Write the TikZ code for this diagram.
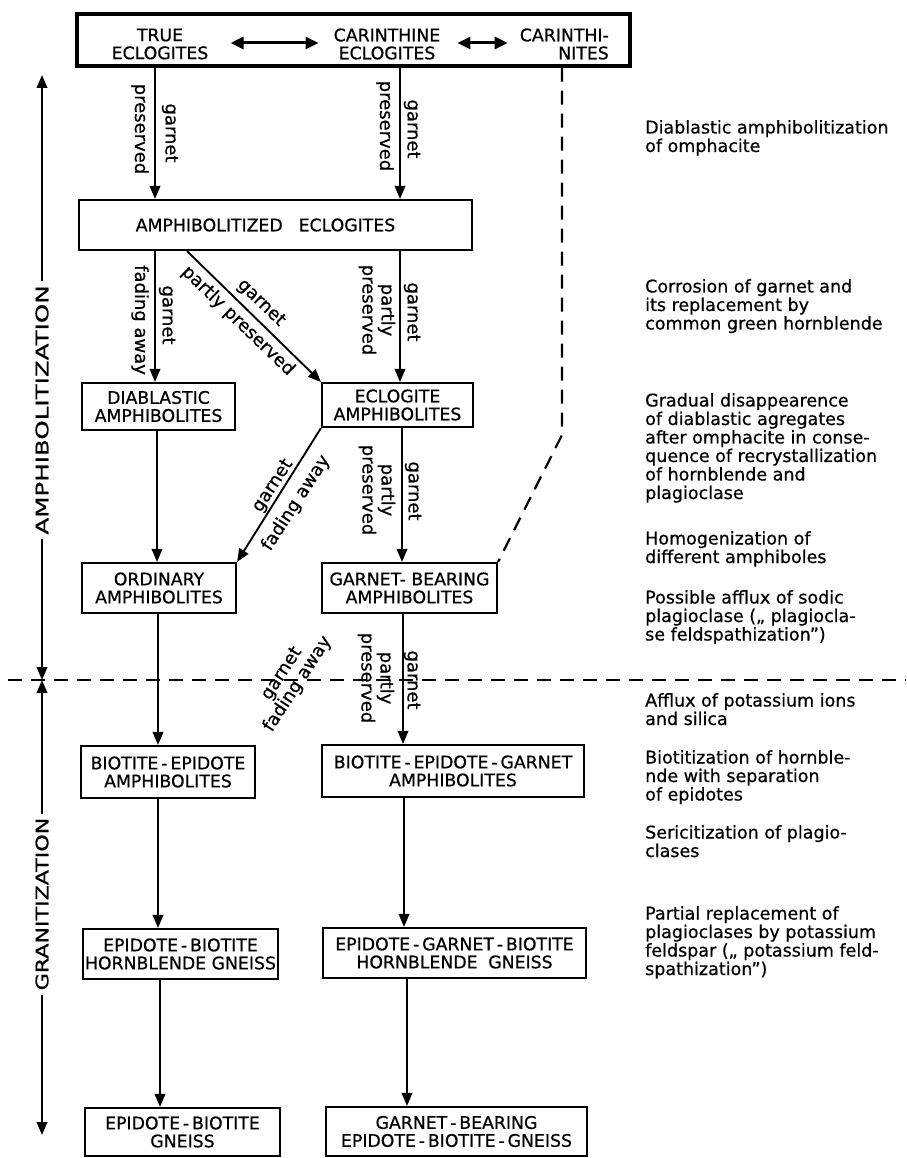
\documentclass[tikz,border=0pt]{standalone}
\usepackage{fontspec}
\setmainfont{DejaVu Sans}[FakeBold=0.6]
\usetikzlibrary{arrows.meta}
\newcommand\bxf{\fontsize{17.3}{18}\selectfont}
\newcommand\lbf{\fontsize{18}{19}\selectfont}
\newcommand\rtf{\fontsize{17.5}{18.5}\selectfont}
\begin{document}
\begin{tikzpicture}[x=1pt,y=-1pt,
  box/.style={draw, line width=2.1pt, inner sep=0pt, align=center, font=\bxf},
  txt/.style={font=\bxf, inner sep=0pt, align=center},
  arr/.style={line width=1.9pt, -{Triangle[length=13pt,width=10.5pt]}},
  dbl/.style={line width=3pt, {Triangle[length=13pt,width=12pt]}-{Triangle[length=13pt,width=12pt]}},
  lbl/.style={font=\lbf, inner sep=0pt, align=center},
  rt/.style={font=\rtf, inner sep=0pt, align=left, anchor=north west},
  dsh/.style={line width=2.2pt, dash pattern=on 14pt off 9pt},
]
\useasboundingbox (0,0) rectangle (906,1158);
\fill[white] (0,0) rectangle (906,1158);

% top box
\node[box, line width=3.2pt, minimum width=553pt, minimum height=52pt] (top) at (353.5,40) {};
\node[txt] (tru) at (160,44) {TRUE\\ECLOGITES};
\node[txt] (car) at (387,44) {CARINTHINE\\ECLOGITES};
\node[txt, align=right, anchor=east] (cnt) at (609,44) {CARINTHI-\\NITES};
\draw[dbl] ([xshift=22pt]tru.east |- 0,43) -- ([xshift=-15pt]car.west |- 0,43);
\draw[dbl] ([xshift=17pt]car.east |- 0,43) -- ([xshift=-12pt]cnt.west |- 0,43);

% boxes
\node[box, minimum width=393pt, minimum height=50pt] (amph) at (275.5,225) {AMPHIBOLITIZED\hspace{0.6em} ECLOGITES\hspace{20pt}};
\node[box, minimum width=153pt, minimum height=47pt] (dia) at (158.5,406.5) {DIABLASTIC\\AMPHIBOLITES};
\node[box, minimum width=151pt, minimum height=44pt] (ecl) at (397.5,405) {ECLOGITE\\AMPHIBOLITES};
\node[box, minimum width=154pt, minimum height=50pt] (ord) at (159,588) {ORDINARY\\AMPHIBOLITES};
\node[box, minimum width=175pt, minimum height=50pt] (gba) at (409.5,588) {GARNET- BEARING\\AMPHIBOLITES};
\node[box, minimum width=174pt, minimum height=52pt] (bea) at (168,772) {BIOTITE\,-\,EPIDOTE\\AMPHIBOLITES};
\node[box, minimum width=262pt, minimum height=52pt] (bega) at (453,771) {BIOTITE\,-\,EPIDOTE\,-\,GARNET\\AMPHIBOLITES};
\node[box, minimum width=195pt, minimum height=50pt] (ebhg) at (180.5,954) {EPIDOTE\,-\,BIOTITE\\HORNBLENDE GNEISS};
\node[box, minimum width=263pt, minimum height=50pt] (egbhg) at (454.5,953) {EPIDOTE\,-\,GARNET\,-\,BIOTITE\\HORNBLENDE\hspace{0.3em} GNEISS};
\node[box, minimum width=195pt, minimum height=48pt] (ebg) at (182.5,1132) {EPIDOTE\,-\,BIOTITE\\GNEISS};
\node[box, minimum width=261pt, minimum height=49pt] (gbebg) at (456.5,1131.5) {GARNET\,-\,BEARING\\EPIDOTE\,-\,BIOTITE\,-\,GNEISS};

% arrows column 1
\draw[arr] (top.south -| 155,0) -- (amph.north -| 155,0);
\draw[arr] (amph.south -| 155,0) -- (dia.north -| 155,0);
\draw[arr] (dia.south -| 157,0) -- (ord.north -| 157,0);
\draw[arr] (ord.south -| 158,0) -- (bea.north -| 158,0);
\draw[arr] (bea.south -| 158,0) -- (ebhg.north -| 158,0);
\draw[arr] (ebhg.south -| 160,0) -- (ebg.north -| 160,0);
% arrows column 2
\draw[arr] (top.south -| 400,0) -- (amph.north -| 400,0);
\draw[arr] (amph.south -| 400,0) -- (ecl.north -| 400,0);
\draw[arr] (ecl.south -| 402,0) -- (gba.north -| 402,0);
\draw[arr] (gba.south -| 403,0) -- (bega.north -| 403,0);
\draw[arr] (bega.south -| 404,0) -- (egbhg.north -| 404,0);
\draw[arr] (egbhg.south -| 407,0) -- (gbebg.north -| 407,0);
% diagonals
\draw[arr] (amph.south -| 187,0) -- (ecl.north west);
\draw[arr] (ecl.south west) -- (ord.north east);

% labels
\node[lbl, rotate=-90] (l1a) at (170,133) {garnet};
\node[lbl, rotate=-90] (l1b) at (140,129) {preserved};
\node[lbl, rotate=-90] (l2a) at (412,129) {garnet};
\node[lbl, rotate=-90] (l2b) at (385,126) {preserved};
\node[lbl, rotate=-90] (l3a) at (167,315) {garnet};
\node[lbl, rotate=-90] (l3b) at (140,320) {fading away};
\node[lbl, rotate=-90] (l4a) at (412,312) {garnet};
\node[lbl, rotate=-90] (l4b) at (377,310) {partly\\preserved};
\node[lbl, rotate=-44] (l5a) at (261,303) {garnet};
\node[lbl, rotate=-44] (l5b) at (238,321) {partly preserved};
\node[lbl, rotate=57] (l6a) at (273,486) {garnet};
\node[lbl, rotate=57] (l6b) at (296,503) {fading away};
\node[lbl, rotate=-90] (l7a) at (413,491) {garnet};
\node[lbl, rotate=-90] (l7b) at (377,490) {partly\\preserved};
\node[lbl, rotate=57] (l8) at (290,679) {garnet\\fading away};
\node[lbl, rotate=-90] (l9a) at (412,680) {garnet};
\node[lbl, rotate=-90] (l9b) at (376,678) {partly\\preserved};

% dashed lines
\coordinate (kink) at (562,435);
\draw[dsh] (top.south -| 562,0) -- (kink) -- (gba.north east);
\coordinate (hl) at (8,680);
\coordinate (hr) at (906,680);
\draw[dsh] (hl) -- (hr);

% left axis
\coordinate (mid) at (42,680);
\coordinate (axt) at (42,75);
\coordinate (axb) at (42,1135);
\node[txt, rotate=90, inner sep=4pt] (amz) at (42,410) {\scalebox{1.42}[1]{AMPHIBOLITIZATION}};
\node[txt, rotate=90, inner sep=4pt] (grz) at (42,904) {\scalebox{1.28}[1]{GRANITIZATION}};
\draw[arr, line width=2.2pt] (amz.east) -- (axt);
\draw[arr, line width=2.2pt] (amz.west) -- (mid);
\draw[arr, line width=2.2pt] (grz.east) -- (mid);
\draw[arr, line width=2.2pt] (grz.west) -- (axb);

% right texts
\node[rt] (r1) at (645,120) {Diablastic amphibolitization\\of omphacite};
\node[rt] (r2) at (645,279) {Corrosion of garnet and\\its replacement by\\common green hornblende};
\node[rt] (r3) at (645,393) {Gradual disappearence\\of diablastic agregates\\after omphacite in conse-\\quence of recrystallization\\of hornblende and\\plagioclase};
\node[rt] (r4) at (645,531) {Homogenization of\\different amphiboles};
\node[rt] (r5) at (645,590) {Possible afflux of sodic\\plagioclase („ plagiocla-\\se feldspathization”)};
\node[rt] (r6) at (645,693) {Afflux of potassium ions\\and silica};
\node[rt] (r7) at (645,750) {Biotitization of hornble-\\nde with separation\\of epidotes};
\node[rt] (r8) at (645,825) {Sericitization of plagio-\\clases};
\node[rt] (r9) at (645,906) {Partial replacement of\\plagioclases by potassium\\feldspar („ potassium feld-\\spathization”)};
\end{tikzpicture}
\end{document}
